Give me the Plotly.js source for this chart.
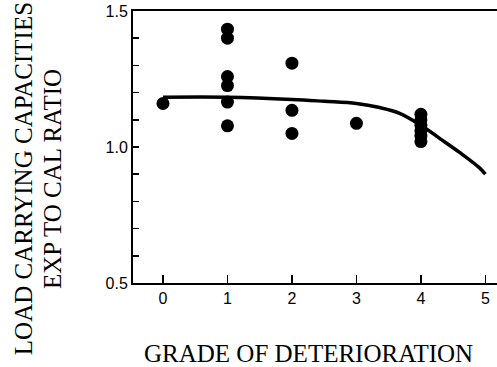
<!DOCTYPE html>
<html>
<head>
<meta charset="utf-8">
<script src="https://cdn.plot.ly/plotly-3.0.1.min.js"></script>
<style>
  html, body { margin: 0; padding: 0; background: #fff; }
  #chart { width: 497px; height: 367px; }
</style>
</head>
<body>
<div id="chart"></div>
<script>
// Measured specimens: grade of deterioration vs. experimental/calculated ratio
const gradeObs = [0, 1, 1, 1, 1, 1, 1, 2, 2, 2, 3, 4, 4, 4, 4, 4, 4];
const ratioObs = [1.16, 1.433, 1.40, 1.259, 1.226, 1.165, 1.078, 1.308, 1.135, 1.05, 1.087,
                  1.12, 1.10, 1.08, 1.06, 1.04, 1.02];

// Fitted trend curve
const gradeFit = [0, 1, 2, 2.5, 3, 3.36, 3.67, 4, 4.3, 4.6, 4.9, 5];
const ratioFit = [1.183, 1.183, 1.175, 1.168, 1.16, 1.145, 1.124, 1.08, 1.03, 0.98, 0.925, 0.90];

const xTickVals = [0, 1, 2, 3, 4, 5];
const yTickVals = [0.5, 1.0, 1.5];
const yTickText = ['0.5', '1.0', '1.5'];

const traces = [
  {
    x: gradeFit, y: ratioFit,
    type: 'scatter', mode: 'lines',
    line: { color: '#000', width: 3.5, shape: 'spline', smoothing: 1 },
    hoverinfo: 'skip'
  },
  {
    x: gradeObs, y: ratioObs,
    type: 'scatter', mode: 'markers',
    marker: { color: '#000', size: 13 }
  }
];

const tickFont = { family: 'Liberation Sans', size: 16, color: '#000' };
const titleFont = { family: 'Liberation Serif', size: 25, color: '#000' };

const layout = {
  width: 497, height: 367,
  margin: { l: 133, r: 0, t: 11, b: 84, pad: 0 },
  paper_bgcolor: '#fff', plot_bgcolor: '#fff',
  showlegend: false,
  xaxis: {
    range: [-0.465, 5.18],
    tickmode: 'array', tickvals: xTickVals,
    ticks: 'inside', ticklen: 8, tickwidth: 1.5, tickcolor: '#000',
    showline: true, linecolor: '#000', linewidth: 2, mirror: true,
    showgrid: false, zeroline: false,
    tickfont: tickFont
  },
  yaxis: {
    range: [0.5, 1.5],
    tickmode: 'array', tickvals: yTickVals, ticktext: yTickText,
    ticks: 'inside', ticklen: 6, tickwidth: 1.5, tickcolor: '#000',
    minor: { dtick: 0.1, tick0: 0.5, ticks: 'inside', ticklen: 6, tickwidth: 1.5, tickcolor: '#000' },
    showline: true, linecolor: '#000', linewidth: 2, mirror: false,
    showgrid: false, zeroline: false,
    tickfont: tickFont
  },
  annotations: [
    {
      text: 'LOAD CARRYING CAPACITIES',
      xref: 'paper', yref: 'paper',
      x: -0.302, y: 0.382, xanchor: 'center', yanchor: 'middle',
      textangle: -90, showarrow: false, font: titleFont
    },
    {
      text: 'EXP TO CAL RATIO',
      xref: 'paper', yref: 'paper',
      x: -0.2225, y: 0.382, xanchor: 'center', yanchor: 'middle',
      textangle: -90, showarrow: false, font: titleFont
    },
    {
      text: 'GRADE OF DETERIORATION',
      xref: 'paper', yref: 'paper',
      x: 0.4835, y: -0.261, xanchor: 'center', yanchor: 'middle',
      showarrow: false, font: titleFont
    }
  ]
};

Plotly.newPlot('chart', traces, layout, { staticPlot: true, displayModeBar: false });
</script>
</body>
</html>
